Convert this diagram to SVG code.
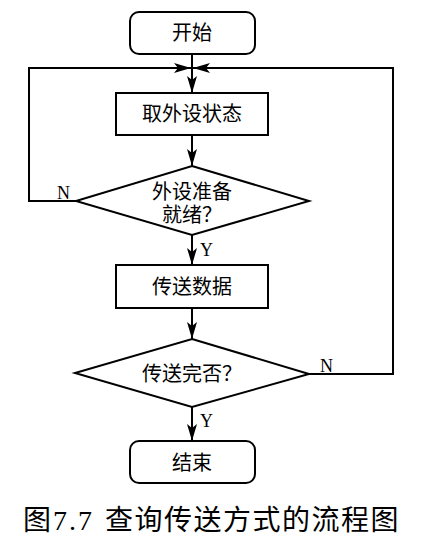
<svg xmlns="http://www.w3.org/2000/svg" width="434" height="540" viewBox="0 0 434 540">
<style>
.s{fill:#fff;stroke:#000;stroke-width:2}
.c{fill:none;stroke:#000;stroke-width:2}
.t{font-family:"Liberation Serif","Noto Sans CJK SC",serif;font-size:20px;fill:#000;text-anchor:middle}
.l{font-family:"Liberation Serif","Noto Sans CJK SC",serif;font-size:18px;fill:#000}
.cap{font-family:"Liberation Serif","Noto Sans CJK SC",serif;font-size:28px;fill:#000}
</style>
<defs>
<marker id="a" markerWidth="18" markerHeight="10" refX="17" refY="5" orient="auto" markerUnits="userSpaceOnUse">
<path d="M0,0 L17,5 L0,10 L4,5 Z" fill="#000"/>
</marker>
</defs>
<rect width="434" height="540" fill="#fff"/>
<g id="connectors">
<path class="c" d="M192,54 V93" marker-end="url(#a)"/>
<path class="c" d="M76,201 H29 V68 H191" marker-end="url(#a)"/>
<path class="c" d="M309,374 H393 V68 H193" marker-end="url(#a)"/>
<path class="c" d="M192,135 V166" marker-end="url(#a)"/>
<path class="c" d="M192,235 V265" marker-end="url(#a)"/>
<path class="c" d="M192,308 V339" marker-end="url(#a)"/>
<path class="c" d="M192,407 V441" marker-end="url(#a)"/>
<text class="l" x="57" y="199">N</text>
<text class="l" x="200" y="256">Y</text>
<text class="l" x="320" y="372">N</text>
<text class="l" x="200" y="427">Y</text>
</g>
<g id="start">
<rect class="s" x="130" y="12" width="125" height="42" rx="9"/>
<text class="t" x="192" y="40">开始</text>
</g>
<g id="getStatus">
<rect class="s" x="116" y="93" width="152" height="42"/>
<text class="t" x="192" y="121">取外设状态</text>
</g>
<g id="ready">
<polygon class="s" points="192,166 309,201 192,235 76,201"/>
<text class="t" x="192" y="199">外设准备</text>
<text class="t" x="192" y="222">就绪？</text>
</g>
<g id="send">
<rect class="s" x="116" y="265" width="152" height="43"/>
<text class="t" x="192" y="294">传送数据</text>
</g>
<g id="done">
<polygon class="s" points="192,339 309,374 192,407 75,373"/>
<text class="t" x="192" y="381">传送完否？</text>
</g>
<g id="end">
<rect class="s" x="130" y="441" width="125" height="42" rx="9"/>
<text class="t" x="192" y="470">结束</text>
</g>
<text class="cap" x="23" y="530" letter-spacing="2">图7.7</text>
<text class="cap" x="105" y="530" letter-spacing="1.5">查询传送方式的流程图</text>
</svg>
